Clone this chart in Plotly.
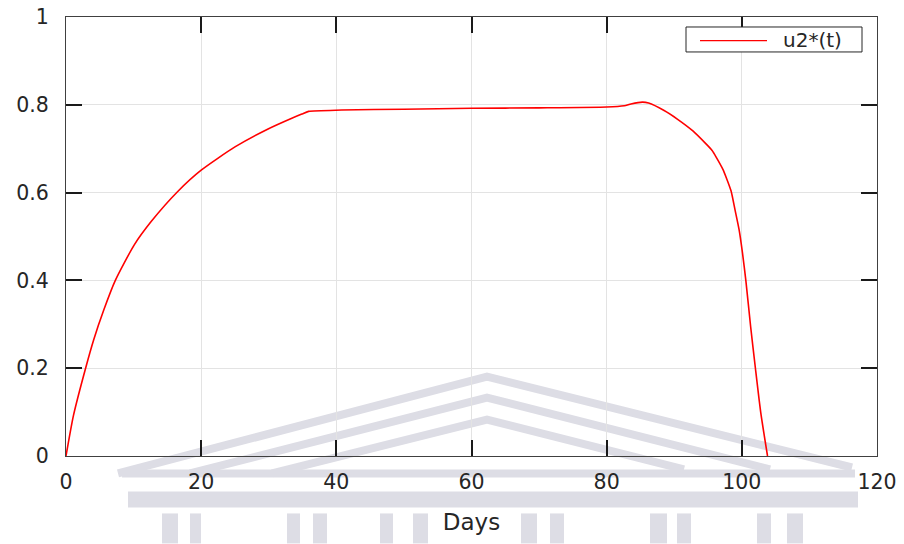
import plotly.graph_objects as go

# ---- data ----
days = [0, 1.1, 2.9, 4.1, 5.6, 7.3, 10.1, 12.6, 16.5, 20, 25, 29.9, 33.5, 34.9, 35.9,
        40.8, 50, 60, 70, 80, 82.6, 83.6, 85.3, 86.2, 88.5, 90.5, 92.8, 94.7,
        95.6, 96.2, 97.2, 97.7, 98.4, 99.0, 99.6, 100.1, 100.6, 101.3, 102.0, 102.8, 103.8]
u2 = [0, 0.092, 0.2, 0.265, 0.333, 0.4, 0.481, 0.534, 0.602, 0.651, 0.704, 0.745, 0.770, 0.779, 0.785,
      0.788, 0.790, 0.792, 0.793, 0.795, 0.798, 0.802, 0.806, 0.804, 0.787, 0.767, 0.740, 0.711,
      0.696, 0.681, 0.653, 0.634, 0.604, 0.56, 0.515, 0.462, 0.399, 0.295, 0.201, 0.099, 0]
x_ticks = [0, 20, 40, 60, 80, 100, 120]
y_ticks = [0, 0.2, 0.4, 0.6, 0.8, 1]
series_name = "u2*(t)"
x_title = "Days"

# ---- layout geometry (pixels) ----
W, H = 904, 544
L, R, T, B = 66, 877, 17, 456.5
pw, ph = R - L, B - T

def px(x):
    return (x - L) / pw

def py(y):
    return (B - y) / ph

fig = go.Figure()
fig.add_trace(go.Scatter(x=days, y=u2, mode="lines", name=series_name,
                         line=dict(color="#ff0000", width=1.6, shape="spline", smoothing=0.6),
                         showlegend=False))

shapes = []
wm = "#dddde5"
def seg(pts, width):
    path = "M" + " L".join(f"{px(a):.4f},{py(b):.4f}" for a, b in pts)
    shapes.append(dict(type="path", xref="paper", yref="paper", path=path,
                       line=dict(color=wm, width=width), layer="below"))

def rect(x0, y0, x1, y1):
    shapes.append(dict(type="rect", xref="paper", yref="paper",
                       x0=px(x0), x1=px(x1), y0=py(y1), y1=py(y0),
                       fillcolor=wm, line=dict(width=0), layer="below"))

# watermark (building logo) approximation
seg([(118, 474), (487, 377), (852, 468)], 8)
seg([(190, 474), (487, 398), (770, 470)], 8)
seg([(272, 474), (487, 420), (684, 470)], 8)
seg([(122, 474), (855, 474)], 8)
rect(128, 492, 858, 508)
for a, b in [(162, 178), (190, 201), (287, 300), (313, 327), (380, 393), (413, 428),
             (521, 537), (550, 564), (650, 667), (677, 691), (757, 771), (787, 803)]:
    rect(a, 514, b, 544)

# manual legend box
shapes.append(dict(type="rect", xref="paper", yref="paper",
                   x0=px(686), x1=px(862), y0=py(52), y1=py(27),
                   fillcolor="white", line=dict(color="#262626", width=1), layer="above"))
shapes.append(dict(type="line", xref="paper", yref="paper",
                   x0=px(700), x1=px(767), y0=py(40.7), y1=py(40.7),
                   line=dict(color="#ff0000", width=1.4), layer="above"))

font_family = "DejaVu Sans, Verdana, sans-serif"
fig.update_layout(
    width=W, height=H,
    margin=dict(l=L, r=W - R, t=T, b=H - B, autoexpand=False),
    paper_bgcolor="white", plot_bgcolor="rgba(0,0,0,0)",
    font=dict(family=font_family, size=20.5, color="#262626"),
    shapes=shapes,
    annotations=[dict(xref="paper", yref="paper", x=px(781), y=py(40.5),
                      xanchor="left", yanchor="middle", text=series_name,
                      showarrow=False, font=dict(size=20, color="#262626"))],
    xaxis=dict(range=[0, 120], tickvals=x_ticks, ticks="inside", ticklen=16, tickwidth=2,
               tickcolor="#1a1a1a", showline=True, linecolor="#404040", linewidth=1,
               mirror="ticks", showgrid=True, gridcolor="#e3e3e3", gridwidth=1,
               zeroline=False, ticklabelstandoff=7, automargin=False,
               title=dict(text=x_title, standoff=21, font=dict(size=23))),
    yaxis=dict(range=[0, 1], tickvals=y_ticks, ticks="inside", ticklen=16, tickwidth=2,
               tickcolor="#1a1a1a", showline=True, linecolor="#404040", linewidth=1,
               mirror="ticks", showgrid=True, gridcolor="#e3e3e3", gridwidth=1,
               zeroline=False, ticklabelstandoff=12, automargin=False),
)
fig.write_html("out.html")
